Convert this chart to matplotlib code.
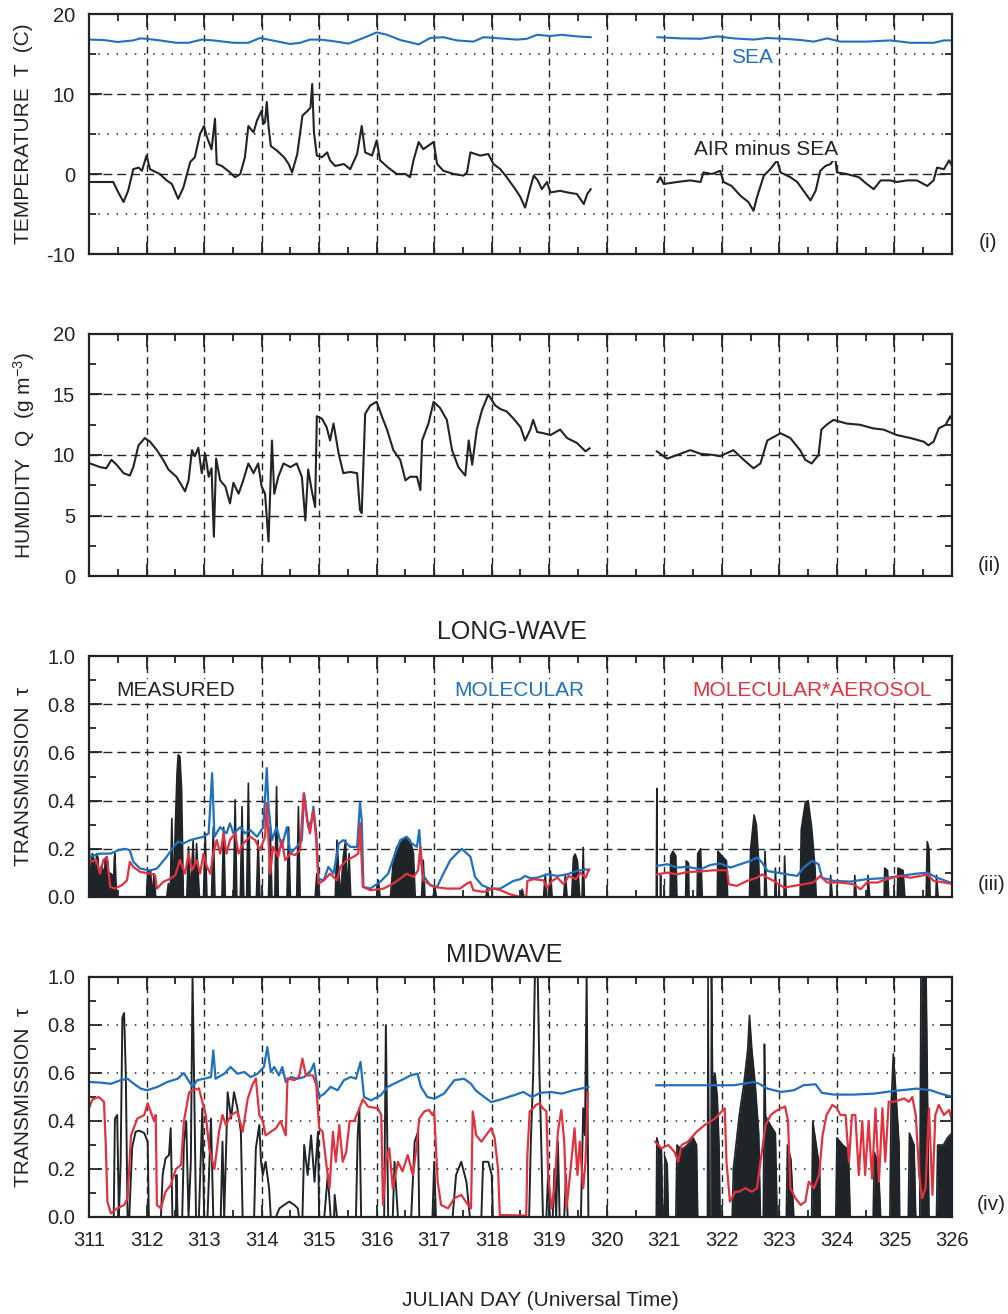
import numpy as np
import matplotlib
matplotlib.use("Agg")
import matplotlib.pyplot as plt
from matplotlib.ticker import MultipleLocator

plt.rcParams['font.family'] = ['Liberation Sans', 'DejaVu Sans']
plt.rcParams['mathtext.fontset'] = 'custom'
plt.rcParams['mathtext.rm'] = 'Liberation Sans'
plt.rcParams['mathtext.default'] = 'regular'
plt.rcParams['axes.unicode_minus'] = False

nan = np.nan

# ---------------- (i) temperature ----------------
sea_day = [311.0, 311.25, 311.5, 311.77, 311.89, 312.0, 312.23, 312.52, 312.73, 312.96, 313.16, 313.51,
           313.77, 313.97, 314.15, 314.5, 314.67, 314.84, 315.02, 315.25, 315.51, 315.77, 316.0, 316.18,
           316.41, 316.73, 316.93, 317.16, 317.39, 317.68, 317.86, 318.15, 318.44, 318.61, 318.79, 319.02,
           319.22, 319.48, 319.72, nan, 320.88, 321.28, 321.63, 321.92, 322.21, 322.55, 322.79, 323.08,
           323.36, 323.6, 323.83, 324.06, 324.52, 324.93, 325.28, 325.68, 325.86, 326.0]
sea_temp = [16.8, 16.75, 16.5, 16.7, 16.95, 16.9, 16.7, 16.4, 16.4, 16.8, 16.7, 16.4,
            16.4, 17.0, 16.75, 16.25, 16.4, 16.8, 16.8, 16.6, 16.3, 17.0, 17.7, 17.4,
            16.75, 16.2, 17.0, 17.1, 16.7, 16.55, 17.1, 16.95, 16.8, 16.9, 17.4, 17.25,
            17.4, 17.2, 17.1, nan, 17.1, 16.95, 16.9, 17.2, 16.95, 16.8, 17.0, 16.9,
            16.75, 16.55, 16.95, 16.55, 16.55, 16.7, 16.4, 16.4, 16.7, 16.7]

air_day = [311.0, 311.42, 311.51, 311.6, 311.68, 311.77, 311.86, 311.92, 312.0, 312.06, 312.23, 312.35,
           312.44, 312.55, 312.64, 312.76, 312.84, 312.93, 313.0, 313.05, 313.13, 313.19, 313.22, 313.31,
           313.45, 313.54, 313.63, 313.71, 313.77, 313.86, 313.92, 314.0, 314.03, 314.06, 314.09, 314.12,
           314.16, 314.27, 314.39, 314.47, 314.53, 314.62, 314.71, 314.8, 314.85, 314.88, 314.91, 314.96,
           315.05, 315.14, 315.19, 315.28, 315.43, 315.54, 315.66, 315.74, 315.8, 315.92, 316.0, 316.06,
           316.2, 316.35, 316.5, 316.58, 316.64, 316.73, 316.81, 316.99, 317.05, 317.16, 317.34, 317.51,
           317.57, 317.63, 317.8, 317.94, 318.03, 318.15, 318.26, 318.41, 318.5, 318.58, 318.67, 318.73,
           318.8, 318.87, 318.96, 319.02, 319.19, 319.31, 319.48, 319.6, 319.66, 319.72, nan,
           320.88, 320.93, 320.99, 321.22, 321.45, 321.63, 321.68, 321.83, 321.97, 322.03, 322.17, 322.32,
           322.46, 322.55, 322.61, 322.73, 322.84, 322.96, 323.02, 323.19, 323.31, 323.42, 323.54, 323.63,
           323.71, 323.8, 323.89, 323.97, 324.0, 324.17, 324.38, 324.52, 324.64, 324.76, 324.93, 325.04,
           325.22, 325.39, 325.57, 325.68, 325.74, 325.86, 325.95, 326.0]
air_minus_sea = [-1.0, -1.0, -2.3, -3.5, -2.1, 0.6, 0.8, 0.4, 2.3, 0.6, 0.0, -0.8,
                 -1.25, -3.1, -1.7, 1.5, 2.1, 5.0, 6.0, 4.6, 3.1, 6.9, 1.25, 1.0,
                 0.2, -0.4, 0.0, 2.1, 6.0, 5.2, 6.7, 7.9, 6.25, 6.5, 9.0, 6.0,
                 3.5, 2.9, 2.1, 1.25, 0.2, 2.5, 7.3, 7.9, 8.3, 11.25, 5.2, 2.3,
                 2.1, 2.7, 1.7, 1.0, 1.25, 0.6, 2.5, 6.0, 2.7, 2.3, 4.2, 1.7,
                 0.8, 0.0, 0.0, -0.4, 1.7, 4.0, 3.1, 4.0, 1.25, 0.4, 0.0, -0.2,
                 0.2, 2.7, 2.3, 2.5, 1.25, 0.6, -0.4, -1.9, -2.9, -4.2, -1.7, -0.2,
                 -0.8, -1.9, -1.0, -2.3, -2.1, -2.3, -2.5, -3.75, -2.5, -1.9, nan,
                 -1.0, -0.4, -1.25, -1.0, -0.8, -1.0, 0.2, 0.0, 0.4, -1.0, -1.5, -2.7,
                 -3.5, -4.6, -2.9, -0.2, 0.6, 1.7, 0.2, -0.4, -1.0, -2.1, -3.3, -2.1,
                 0.4, 1.0, 1.25, 2.1, 0.2, 0.0, -0.4, -1.25, -1.9, -0.8, -0.8, -1.0,
                 -0.8, -0.8, -1.5, -0.8, 0.8, 0.6, 1.7, 1.0]

# ---------------- (ii) humidity ----------------
hum_day = [311.02, 311.19, 311.3, 311.39, 311.48, 311.6, 311.71, 311.77, 311.86, 311.97, 312.06, 312.18,
           312.29, 312.38, 312.52, 312.67, 312.73, 312.79, 312.84, 312.9, 312.96, 313.02, 313.08, 313.13,
           313.17, 313.21, 313.28, 313.37, 313.45, 313.51, 313.6, 313.68, 313.77, 313.86, 313.94, 314.0,
           314.06, 314.12, 314.18, 314.22, 314.29, 314.38, 314.5, 314.61, 314.7, 314.76, 314.81, 314.87,
           314.93, 314.96, 315.05, 315.13, 315.19, 315.25, 315.34, 315.42, 315.54, 315.66, 315.71, 315.74,
           315.8, 315.89, 316.0, 316.09, 316.18, 316.29, 316.41, 316.5, 316.58, 316.7, 316.76, 316.79,
           316.9, 316.99, 317.1, 317.22, 317.31, 317.42, 317.54, 317.6, 317.66, 317.74, 317.83, 317.94,
           318.06, 318.15, 318.26, 318.38, 318.5, 318.58, 318.67, 318.72, 318.79, 318.9, 319.02, 319.19,
           319.31, 319.48, 319.63, 319.7, nan,
           320.87, 320.96, 321.05, 321.22, 321.45, 321.63, 321.86, 321.97, 322.2, 322.38, 322.55, 322.67,
           322.79, 323.02, 323.19, 323.36, 323.45, 323.56, 323.68, 323.73, 323.82, 323.94, 324.17, 324.4,
           324.63, 324.81, 325.04, 325.28, 325.51, 325.59, 325.68, 325.77, 325.89, 325.97, 326.0]
humidity = [9.3, 9.0, 8.9, 9.6, 9.2, 8.5, 8.3, 9.0, 10.8, 11.4, 11.1, 10.4,
            9.6, 8.8, 8.2, 7.0, 7.9, 10.4, 9.9, 10.6, 8.5, 10.1, 8.2, 8.9,
            3.25, 9.7, 7.9, 7.4, 6.0, 7.7, 6.8, 7.9, 9.3, 8.5, 9.3, 7.4,
            6.8, 2.85, 11.2, 6.8, 8.2, 9.3, 9.0, 9.3, 8.2, 4.6, 8.8, 7.1,
            5.7, 13.2, 13.0, 12.3, 11.2, 12.6, 10.1, 8.5, 8.6, 8.5, 5.45, 5.2,
            13.4, 14.1, 14.4, 13.2, 12.1, 10.4, 9.6, 7.9, 8.2, 8.2, 7.1, 11.2,
            12.6, 14.4, 13.9, 12.9, 10.4, 9.0, 8.3, 11.2, 9.2, 12.1, 13.7, 15.0,
            14.1, 13.8, 13.6, 13.0, 12.3, 11.2, 12.1, 12.9, 11.9, 11.8, 11.65, 12.1,
            11.4, 11.0, 10.3, 10.55, nan,
            10.3, 10.0, 9.7, 10.0, 10.4, 10.1, 10.0, 9.9, 10.4, 9.6, 8.9, 9.3,
            11.2, 11.8, 11.4, 10.4, 9.6, 9.3, 10.0, 12.1, 12.5, 12.9, 12.6, 12.5,
            12.2, 12.1, 11.65, 11.4, 11.1, 10.8, 11.1, 12.2, 12.5, 13.2, 12.9]

# ---------------- (iii) long-wave transmission ----------------
lw_mol_day = [311.02, 311.19, 311.37, 311.51, 311.63, 311.71, 311.77, 311.89, 312.06, 312.18, 312.23, 312.35,
              312.47, 312.55, 312.64, 312.76, 312.87, 312.99, 313.08, 313.14, 313.18, 313.28, 313.39, 313.45,
              313.51, 313.63, 313.71, 313.8, 313.92, 314.03, 314.09, 314.12, 314.18, 314.26, 314.35, 314.44,
              314.5, 314.61, 314.7, 314.74, 314.81, 314.87, 314.9, 314.95, 314.99, 315.08, 315.16, 315.25,
              315.34, 315.42, 315.54, 315.66, 315.71, 315.74, 315.77, 315.89, 316.06, 316.2, 316.32, 316.41,
              316.52, 316.61, 316.7, 316.74, 316.79, 316.93, 317.05, 317.16, 317.28, 317.39, 317.48, 317.57,
              317.63, 317.71, 317.83, 317.97, 318.15, 318.38, 318.5, 318.58, 318.67, 318.79, 318.96, 319.14,
              319.31, 319.48, 319.63, 319.69, nan,
              320.87, 321.05, 321.22, 321.4, 321.63, 321.8, 321.97, 322.15, 322.32, 322.5, 322.61, 322.7,
              322.79, 322.96, 323.14, 323.31, 323.42, 323.57, 323.68, 323.74, 323.94, 324.23, 324.52, 324.81,
              325.1, 325.39, 325.57, 325.74, 325.97]
lw_mol = [0.167, 0.18, 0.18, 0.194, 0.2, 0.194, 0.146, 0.118, 0.11, 0.118, 0.132, 0.167,
          0.208, 0.23, 0.222, 0.236, 0.243, 0.25, 0.264, 0.514, 0.25, 0.29, 0.264, 0.306,
          0.264, 0.29, 0.264, 0.278, 0.25, 0.29, 0.535, 0.375, 0.236, 0.29, 0.208, 0.29,
          0.18, 0.208, 0.236, 0.43, 0.29, 0.32, 0.375, 0.264, 0.076, 0.069, 0.125, 0.097,
          0.222, 0.236, 0.208, 0.208, 0.39, 0.32, 0.042, 0.035, 0.0625, 0.097, 0.18, 0.236,
          0.25, 0.222, 0.208, 0.278, 0.097, 0.049, 0.042, 0.097, 0.153, 0.18, 0.2, 0.18,
          0.167, 0.083, 0.049, 0.035, 0.035, 0.067, 0.074, 0.0875, 0.078, 0.08, 0.094, 0.0875,
          0.094, 0.108, 0.115, 0.111, nan,
          0.129, 0.136, 0.122, 0.125, 0.115, 0.133, 0.139, 0.122, 0.136, 0.15, 0.164, 0.143,
          0.108, 0.101, 0.094, 0.0875, 0.122, 0.15, 0.136, 0.08, 0.067, 0.064, 0.074, 0.078,
          0.0875, 0.097, 0.101, 0.08, 0.06]

lw_aer_day = [311.02, 311.13, 311.19, 311.25, 311.31, 311.37, 311.45, 311.57, 311.66, 311.71, 311.77, 311.89,
              312.06, 312.15, 312.18, 312.29, 312.41, 312.5, 312.58, 312.67, 312.73, 312.79, 312.87, 312.93,
              312.99, 313.05, 313.11, 313.16, 313.22, 313.28, 313.34, 313.39, 313.45, 313.54, 313.6, 313.68,
              313.8, 313.89, 313.97, 314.06, 314.09, 314.12, 314.15, 314.2, 314.29, 314.35, 314.41, 314.5,
              314.58, 314.67, 314.73, 314.79, 314.84, 314.9, 314.95, 314.99, 315.08, 315.19, 315.31, 315.37,
              315.48, 315.6, 315.68, 315.71, 315.76, 315.89, 316.12, 316.29, 316.41, 316.52, 316.64, 316.72,
              316.76, 316.81, 316.99, 317.22, 317.45, 317.57, 317.63, 317.68, 317.86, 318.03, 318.15, 318.32,
              318.5, 318.6, 318.62, 318.73, 318.9, 318.96, 319.05, 319.14, 319.25, 319.34, 319.46, 319.54,
              319.63, 319.69, nan,
              320.87, 321.05, 321.22, 321.4, 321.63, 321.86, 322.09, 322.12, 322.26, 322.44, 322.61, 322.7,
              322.79, 322.9, 323.08, 323.25, 323.42, 323.59, 323.71, 323.83, 324.06, 324.29, 324.41, 324.52,
              324.7, 324.87, 325.1, 325.28, 325.45, 325.57, 325.68, 325.86, 325.97]
lw_aer = [0.146, 0.153, 0.097, 0.153, 0.167, 0.042, 0.035, 0.049, 0.069, 0.146, 0.125, 0.104,
          0.097, 0.09, 0.035, 0.0625, 0.076, 0.09, 0.153, 0.097, 0.18, 0.111, 0.153, 0.097,
          0.18, 0.125, 0.097, 0.18, 0.236, 0.18, 0.264, 0.18, 0.236, 0.264, 0.18, 0.222,
          0.25, 0.236, 0.194, 0.25, 0.39, 0.236, 0.097, 0.208, 0.167, 0.236, 0.153, 0.18,
          0.174, 0.194, 0.43, 0.32, 0.264, 0.361, 0.236, 0.056, 0.069, 0.097, 0.069, 0.125,
          0.153, 0.167, 0.18, 0.306, 0.042, 0.028, 0.035, 0.056, 0.076, 0.097, 0.083, 0.111,
          0.208, 0.069, 0.042, 0.035, 0.035, 0.056, 0.0625, 0.028, 0.021, 0.035, 0.028, 0.011,
          0.0, 0.0, 0.067, 0.074, 0.069, 0.039, 0.067, 0.08, 0.053, 0.0875, 0.074, 0.101,
          0.08, 0.115, nan,
          0.094, 0.101, 0.094, 0.104, 0.106, 0.111, 0.111, 0.053, 0.046, 0.067, 0.08, 0.094,
          0.08, 0.067, 0.039, 0.046, 0.053, 0.06, 0.0875, 0.06, 0.06, 0.053, 0.032, 0.06,
          0.06, 0.074, 0.0875, 0.08, 0.0875, 0.094, 0.067, 0.06, 0.056]

lw_meas_day = [311.0, 311.01, 311.03, 311.05, 311.06, 311.09, 311.1, 311.13, 311.16, 311.17, 311.2, 311.22,
               311.25, 311.26, 311.28, 311.31, 311.33, 311.34, 311.36, 311.38, 311.41, 311.42, 311.44, 311.45,
               311.48, 312.0, 312.02, 312.07, 312.1, 312.13, 312.16, 312.35, 312.38, 312.41, 312.44,
               312.47, 312.5, 312.53, 312.55, 312.58, 312.61, 312.64, 312.7, 312.73, 312.76, 312.81, 312.84,
               312.87, 312.92, 312.99, 313.02, 313.05, 313.13, 313.16, 313.19, 313.31, 313.34, 313.37, 313.51,
               313.54, 313.57, 313.63, 313.66, 313.69, 313.74, 313.77, 313.8, 313.91, 313.94, 313.97, 314.12,
               314.15, 314.18, 314.23, 314.26, 314.29, 314.44, 314.47, 314.5, 314.61, 314.64, 314.67, 314.93,
               314.96, 314.99, 315.28, 315.31, 315.34, 315.37, 315.42, 315.46, 315.49, 315.52, 315.55, 316.0,
               316.03, 316.06, 316.24, 316.29, 316.35, 316.41, 316.46, 316.52, 316.58, 316.64, 316.67, 316.78,
               316.81, 316.84, 316.98, 317.01, 317.04, 317.9, 317.92, 317.95, 318.5, 318.53, 318.56, 318.9,
               318.93, 318.96, 319.0, 319.02, 319.05, 319.25, 319.28, 319.31, 319.39, 319.42, 319.45, 319.49,
               319.53, 319.57, 319.59, 319.61, nan,
               320.86, 320.87, 320.875, 320.93, 320.935, 320.94, 321.1, 321.11, 321.15, 321.2, 321.22, 321.37,
               321.38, 321.42, 321.43, 321.57, 321.58, 321.63, 321.66, 321.92, 321.93, 322.0, 322.08, 322.1,
               322.48, 322.5, 322.56, 322.6, 322.64, 322.66, 322.74, 322.75, 322.78, 322.92, 322.93, 322.95,
               323.08, 323.09, 323.12, 323.36, 323.38, 323.45, 323.5, 323.56, 323.62, 323.64, 323.88, 323.89,
               323.92, 324.3, 324.31, 324.34, 324.53, 324.54, 324.57, 324.82, 324.83, 324.88, 324.9, 325.05,
               325.06, 325.15, 325.18, 325.55, 325.57, 325.6, 325.62, 325.72, 325.73, 325.76]
lw_meas = [0.27, 0.16, 0.0, 0.17, 0.18, 0.15, 0.0, 0.18, 0.16, 0.0, 0.12, 0.13,
           0.11, 0.0, 0.15, 0.167, 0.14, 0.0, 0.1, 0.097, 0.09, 0.0, 0.16, 0.18,
           0.0, 0.0, 0.11, 0.11, 0.0, 0.097, 0.0, 0.0, 0.056, 0.0, 0.326,
           0.0, 0.29, 0.514, 0.59, 0.583, 0.444, 0.0, 0.0, 0.208, 0.0, 0.236, 0.0,
           0.222, 0.0, 0.0, 0.264, 0.0, 0.0, 0.29, 0.0, 0.0, 0.29, 0.0, 0.0,
           0.403, 0.0, 0.0, 0.375, 0.0, 0.0, 0.472, 0.0, 0.0, 0.236, 0.0, 0.0,
           0.29, 0.0, 0.0, 0.458, 0.0, 0.0, 0.29, 0.0, 0.0, 0.375, 0.0, 0.0,
           0.097, 0.0, 0.0, 0.236, 0.111, 0.0, 0.167, 0.236, 0.0, 0.18, 0.0, 0.0,
           0.069, 0.0, 0.0, 0.153, 0.208, 0.222, 0.236, 0.25, 0.236, 0.18, 0.0, 0.0,
           0.153, 0.0, 0.0, 0.042, 0.0, 0.0, 0.035, 0.0, 0.0, 0.032, 0.0, 0.0,
           0.094, 0.0, 0.0, 0.108, 0.0, 0.0, 0.094, 0.0, 0.0, 0.164, 0.178, 0.15,
           0.0, 0.0, 0.206, 0.0, nan,
           0.0, 0.45, 0.0, 0.0, 0.09, 0.0, 0.0, 0.17, 0.19, 0.17, 0.0, 0.0,
           0.15, 0.14, 0.0, 0.0, 0.18, 0.2, 0.0, 0.0, 0.19, 0.17, 0.15, 0.0,
           0.0, 0.2, 0.34, 0.3, 0.15, 0.0, 0.0, 0.19, 0.0, 0.0, 0.12, 0.0,
           0.0, 0.17, 0.0, 0.0, 0.28, 0.39, 0.4, 0.29, 0.12, 0.0, 0.0, 0.09,
           0.0, 0.0, 0.09, 0.0, 0.0, 0.09, 0.0, 0.0, 0.12, 0.11, 0.0, 0.0,
           0.12, 0.11, 0.0, 0.0, 0.23, 0.2, 0.0, 0.0, 0.09, 0.0]

# ---------------- (iv) midwave transmission ----------------
mw_mol_day = [311.0, 311.2, 311.38, 311.55, 311.67, 311.78, 311.9, 312.01, 312.19, 312.36, 312.54, 312.65,
              312.71, 312.8, 312.88, 313.0, 313.12, 313.16, 313.2, 313.35, 313.46, 313.58, 313.7, 313.81,
              313.93, 314.04, 314.1, 314.16, 314.22, 314.3, 314.36, 314.42, 314.51, 314.62, 314.74, 314.86,
              314.91, 314.96, 315.0, 315.09, 315.2, 315.32, 315.43, 315.55, 315.64, 315.72, 315.78, 315.9,
              316.07, 316.19, 316.3, 316.48, 316.59, 316.71, 316.77, 316.88, 317.0, 317.17, 317.35, 317.52,
              317.64, 317.72, 317.87, 317.99, 318.16, 318.38, 318.55, 318.7, 318.84, 319.02, 319.22, 319.42,
              319.68, nan,
              320.86, 321.16, 321.63, 321.91, 322.21, 322.55, 322.65, 322.79, 323.03, 323.25, 323.42, 323.63,
              323.74, 323.95, 324.29, 324.64, 324.99, 325.39, 325.63, 325.8, 325.97]
mw_mol = [0.5625, 0.56, 0.555, 0.57, 0.576, 0.555, 0.535, 0.528, 0.542, 0.5625, 0.576, 0.6,
          0.576, 0.542, 0.57, 0.576, 0.583, 0.694, 0.576, 0.597, 0.625, 0.597, 0.604, 0.583,
          0.597, 0.625, 0.708, 0.604, 0.625, 0.59, 0.625, 0.5625, 0.583, 0.576, 0.583, 0.611,
          0.64, 0.555, 0.5, 0.514, 0.542, 0.528, 0.57, 0.583, 0.576, 0.646, 0.5, 0.486,
          0.507, 0.542, 0.555, 0.576, 0.59, 0.597, 0.542, 0.5, 0.493, 0.514, 0.57, 0.576,
          0.555, 0.528, 0.5, 0.479, 0.49, 0.507, 0.521, 0.5, 0.517, 0.521, 0.514, 0.528,
          0.542, nan,
          0.549, 0.549, 0.549, 0.549, 0.549, 0.5625, 0.555, 0.535, 0.521, 0.528, 0.549, 0.553,
          0.517, 0.51, 0.51, 0.514, 0.525, 0.535, 0.528, 0.514, 0.503]

mw_aer_day = [311.0, 311.06, 311.17, 311.26, 311.29, 311.32, 311.38, 311.49, 311.61, 311.67, 311.73, 311.84,
              311.96, 312.02, 312.07, 312.13, 312.16, 312.18, 312.25, 312.33, 312.42, 312.51, 312.6, 312.65,
              312.74, 312.83, 312.91, 312.97, 313.03, 313.09, 313.18, 313.26, 313.32, 313.38, 313.47, 313.58,
              313.67, 313.76, 313.84, 313.9, 313.96, 314.02, 314.07, 314.16, 314.25, 314.33, 314.42, 314.45,
              314.57, 314.65, 314.71, 314.77, 314.83, 314.89, 314.95, 315.0, 315.06, 315.12, 315.18, 315.24,
              315.29, 315.35, 315.41, 315.47, 315.53, 315.61, 315.7, 315.76, 315.85, 316.02, 316.08, 316.11,
              316.16, 316.22, 316.28, 316.37, 316.45, 316.54, 316.63, 316.69, 316.74, 316.83, 316.91, 316.97,
              317.0, 317.06, 317.12, 317.24, 317.35, 317.47, 317.59, 317.64, 317.67, 317.73, 317.82, 317.9,
              317.99, 318.05, 318.11, 318.14, 318.6, 318.62, 318.66, 318.72, 318.77, 318.83, 318.89, 318.95,
              318.98, 319.04, 319.09, 319.15, 319.21, 319.26, 319.3, 319.36, 319.44, 319.49, 319.53, 319.59,
              319.63, 319.67, nan,
              320.84, 320.95, 321.07, 321.18, 321.24, 321.3, 321.41, 321.56, 321.7, 321.88, 322.05, 322.08,
              322.14, 322.23, 322.29, 322.41, 322.52, 322.61, 322.67, 322.76, 322.85, 322.93, 323.02, 323.1,
              323.15, 323.19, 323.28, 323.37, 323.45, 323.51, 323.6, 323.69, 323.75, 323.82, 323.92, 324.0,
              324.06, 324.15, 324.21, 324.26, 324.32, 324.38, 324.44, 324.49, 324.55, 324.61, 324.67, 324.73,
              324.79, 324.84, 324.9, 324.99, 325.08, 325.17, 325.25, 325.31, 325.37, 325.43, 325.48, 325.54,
              325.6, 325.66, 325.71, 325.77, 325.86, 325.95, 326.0]
mw_aer = [0.453, 0.49, 0.5, 0.48, 0.31, 0.064, 0.015, 0.036, 0.05, 0.078, 0.34, 0.41,
          0.425, 0.474, 0.44, 0.4, 0.425, 0.05, 0.036, 0.105, 0.133, 0.2, 0.217, 0.4,
          0.52, 0.53, 0.536, 0.48, 0.425, 0.286, 0.2, 0.355, 0.425, 0.383, 0.425, 0.44,
          0.355, 0.494, 0.55, 0.578, 0.425, 0.4, 0.34, 0.355, 0.37, 0.4, 0.34, 0.578,
          0.57, 0.585, 0.66, 0.59, 0.59, 0.59, 0.55, 0.37, 0.355, 0.23, 0.12, 0.355,
          0.23, 0.383, 0.23, 0.27, 0.4, 0.4, 0.453, 0.49, 0.46, 0.453, 0.425, 0.05,
          0.23, 0.286, 0.12, 0.23, 0.19, 0.258, 0.175, 0.286, 0.41, 0.44, 0.446, 0.425,
          0.44, 0.147, 0.05, 0.036, 0.078, 0.092, 0.05, 0.036, 0.44, 0.34, 0.314, 0.34,
          0.37, 0.33, 0.2, 0.008, 0.006, 0.26, 0.44, 0.453, 0.467, 0.474, 0.453, 0.44,
          0.175, 0.036, 0.12, 0.355, 0.446, 0.314, 0.036, 0.175, 0.37, 0.175, 0.314, 0.12,
          0.23, 0.52, nan,
          0.314, 0.286, 0.3, 0.27, 0.23, 0.3, 0.314, 0.355, 0.383, 0.41, 0.453, 0.23,
          0.064, 0.105, 0.105, 0.12, 0.105, 0.12, 0.23, 0.383, 0.425, 0.44, 0.453, 0.46,
          0.4, 0.12, 0.078, 0.05, 0.064, 0.147, 0.12, 0.175, 0.34, 0.425, 0.467, 0.453,
          0.425, 0.425, 0.23, 0.425, 0.425, 0.175, 0.4, 0.175, 0.4, 0.16, 0.453, 0.147,
          0.453, 0.23, 0.48, 0.48, 0.487, 0.494, 0.48, 0.5, 0.425, 0.175, 0.078, 0.12,
          0.453, 0.092, 0.425, 0.467, 0.425, 0.446, 0.4]

mw_meas_day = [311.0, 311.43, 311.45, 311.49, 311.52, 311.55, 311.58, 311.61, 311.64, 311.67, 311.7, 311.75,
               311.81, 311.87, 311.96, 312.02, 312.04, 312.25, 312.28, 312.33, 312.39, 312.42, 312.45, 312.51,
               312.52, 312.54, 312.62, 312.65, 312.69, 312.73, 312.77, 312.8, 312.83, 312.86, 312.91, 312.97,
               313.0, 313.06, 313.12, 313.16, 313.29, 313.32, 313.35, 313.41, 313.47, 313.52, 313.58, 313.64,
               313.67, 313.87, 313.9, 313.96, 313.99, 314.02, 314.07, 314.13, 314.16, 314.25, 314.31, 314.39,
               314.48, 314.57, 314.63, 314.65, 314.71, 314.74, 314.8, 314.86, 314.92, 314.98, 315.0, 315.09,
               315.15, 315.2, 315.26, 315.27, 315.31, 315.64, 315.67, 315.7, 315.73, 316.13, 316.16, 316.2,
               316.28, 316.31, 316.37, 316.6, 316.66, 316.72, 316.74, 316.97, 317.0, 317.03, 317.32, 317.38,
               317.47, 317.56, 317.62, 317.82, 317.85, 317.94, 318.0, 318.02, 318.65, 318.68, 318.72, 318.75,
               318.8, 318.83, 318.86, 318.89, 318.95, 318.98, 319.01, 319.06, 319.09, 319.12, 319.15, 319.18,
               319.26, 319.29, 319.32, 319.55, 319.59, 319.62, 319.65, 319.68]
mw_meas = [0.0, 0.0, 0.41, 0.425, 0.0, 0.23, 0.83, 0.85, 0.59, 0.0, 0.0, 0.29,
           0.355, 0.36, 0.35, 0.314, 0.0, 0.0, 0.175, 0.244, 0.258, 0.37, 0.0, 0.0,
           0.175, 0.0, 0.0, 0.314, 0.4, 0.0, 0.23, 1.0, 0.52, 0.0, 0.0, 0.453,
           0.0, 0.0, 0.41, 0.0, 0.0, 0.314, 0.0, 0.52, 0.41, 0.52, 0.453, 0.355,
           0.0, 0.0, 0.286, 0.383, 0.23, 0.175, 0.23, 0.12, 0.0, 0.0, 0.036, 0.05,
           0.064, 0.05, 0.036, 0.0, 0.0, 0.3, 0.175, 0.34, 0.147, 0.355, 0.0, 0.0,
           0.175, 0.0, 0.0, 0.092, 0.0, 0.0, 0.34, 0.453, 0.0, 0.0, 0.8, 0.0,
           0.0, 0.23, 0.0, 0.0, 0.314, 0.355, 0.0, 0.0, 0.23, 0.0, 0.0, 0.175,
           0.23, 0.147, 0.0, 0.0, 0.23, 0.23, 0.175, 0.0, 0.0, 0.314, 0.59, 1.0,
           1.0, 0.59, 0.314, 0.0, 0.0, 0.175, 0.0, 0.0, 0.2, 0.0, 0.314, 0.0,
           0.0, 0.175, 0.0, 0.0, 0.453, 0.34, 1.0, 0.0]

# dense bursts of the measured midwave record after day 320
mw_burst_day = [320.86, 320.87, 320.9, 320.95, 320.97, 321.0, 321.01, 321.05, 321.07, 321.2, 321.22, 321.3,
                321.4, 321.5, 321.56, 321.58, 321.75, 321.76, 321.78, 321.81, 321.82, 321.84, 321.88, 321.92,
                321.95, 321.97, 322.18, 322.2, 322.3, 322.38, 322.45, 322.48, 322.52, 322.58, 322.64, 322.67,
                322.72, 322.74, 322.76, 322.85, 322.93, 322.96, 323.12, 323.14, 323.2, 323.25, 323.56, 323.58,
                323.64, 323.7, 323.71, 323.98, 324.0, 324.1, 324.2, 324.23, 324.63, 324.65, 324.72, 324.76,
                324.92, 324.94, 324.98, 325.03, 325.08, 325.09, 325.24, 325.26, 325.34, 325.37, 325.44, 325.46,
                325.55, 325.58, 325.6, 325.73, 325.75, 325.85, 325.92, 326.0]
mw_burst = [0.0, 0.33, 0.3, 0.28, 0.0, 0.0, 0.25, 0.22, 0.0, 0.0, 0.3, 0.28,
            0.3, 0.33, 0.3, 0.0, 0.0, 1.0, 0.0, 0.0, 1.0, 0.55, 0.6, 0.5,
            0.3, 0.0, 0.0, 0.2, 0.42, 0.55, 0.7, 0.84, 0.7, 0.55, 0.35, 0.0,
            0.0, 0.72, 0.42, 0.38, 0.35, 0.0, 0.0, 0.3, 0.24, 0.0, 0.0, 0.4,
            0.3, 0.2, 0.0, 0.0, 0.33, 0.3, 0.28, 0.0, 0.0, 0.27, 0.22, 0.0,
            0.0, 0.45, 0.68, 0.5, 0.3, 0.0, 0.0, 0.35, 0.3, 0.0, 0.0, 1.0,
            1.0, 0.4, 0.0, 0.0, 0.3, 0.3, 0.33, 0.35]

days = list(range(311, 327))

BLUE = '#2070c0'
RED = '#e2323f'
INK = '#1f2428'
FS_TICK = 14.5
FS_LAB = 15

fig = plt.figure(figsize=(10.08, 13.14), dpi=100)
W, H = 1008.0, 1314.0


def make_axes(top, bottom):
    return fig.add_axes([89 / W, 1 - bottom / H, 863 / W, (bottom - top) / H])


def style(ax, ylim, major, minor, dashed, dotted, hdash=(0, (6.5, 3.5)), xlabels=False):
    ax.set_xlim(311, 326)
    ax.set_ylim(*ylim)
    ax.xaxis.set_major_locator(MultipleLocator(1))
    ax.xaxis.set_minor_locator(MultipleLocator(0.5))
    ax.yaxis.set_major_locator(MultipleLocator(major))
    ax.yaxis.set_minor_locator(MultipleLocator(minor))
    ax.tick_params(which='both', direction='in', top=True, right=True, width=1.3,
                   color=INK, labelcolor=INK, labelsize=FS_TICK)
    ax.tick_params(which='major', length=9, pad=10)
    ax.tick_params(which='minor', length=5)
    ax.tick_params(axis='x', labelbottom=xlabels)
    for d in days[1:-1]:
        ax.axvline(d, color=INK, lw=1.0, ls=(0, (5, 3.5)), zorder=1)
    for y in dashed:
        ax.axhline(y, color=INK, lw=1.0, ls=hdash, zorder=1)
    for y in dotted:
        ax.axhline(y, color=INK, lw=1.1, ls=(0, (1, 5)), zorder=1)
    for s in ax.spines.values():
        s.set_linewidth(1.6)
        s.set_color(INK)
        s.set_zorder(6)


def ylabel(text, top, bottom):
    fig.text(24 / W, 1 - (top + bottom) / 2 / H, text, rotation=90, ha='center', va='center',
             fontsize=FS_LAB, color=INK)


def tag(text, x, y):
    fig.text(x / W, 1 - y / H, text, ha='center', va='center', fontsize=FS_LAB, color=INK)


box = dict(facecolor='white', edgecolor='none', pad=1.5)

# (i) temperature
ax1 = make_axes(14, 254)
style(ax1, (-10, 20), 10, 5, dashed=[0, 10], dotted=[-5, 5, 15])
ax1.set_yticks([-10, 0, 10, 20])
ax1.plot(sea_day, sea_temp, color=BLUE, lw=1.5, zorder=3)
ax1.plot(air_day, air_minus_sea, color=INK, lw=1.5, zorder=3)
ax1.text(322.53, 14.6, 'SEA', color=BLUE, fontsize=FS_LAB, ha='center', va='center', bbox=box, zorder=4)
ax1.text(322.76, 3.1, 'AIR minus SEA', color=INK, fontsize=FS_LAB, ha='center', va='center', bbox=box,
         zorder=4)
ylabel('TEMPERATURE  T  (C)', 14, 254)
tag('(i)', 988, 242)

# (ii) humidity
ax2 = make_axes(334, 576)
style(ax2, (0, 20), 5, 2.5, dashed=[5, 10, 15], dotted=[])
ax2.plot(hum_day, humidity, color=INK, lw=1.5, zorder=3)
ylabel('HUMIDITY  Q  (g m$^{-3}$)', 334, 576)
tag('(ii)', 989, 566)

# (iii) long-wave transmission
ax3 = make_axes(656, 897)
style(ax3, (0, 1), 0.2, 0.1, dashed=[0.2, 0.4, 0.6, 0.8], dotted=[])
ax3.set_yticks([0, 0.2, 0.4, 0.6, 0.8, 1.0])
ax3.yaxis.set_major_formatter(lambda v, p: f'{v:.1f}')
ax3.fill_between(lw_meas_day, 0, lw_meas, color=INK, lw=0, zorder=2)
ax3.plot(lw_meas_day, lw_meas, color=INK, lw=1.2, zorder=2)
ax3.plot(lw_mol_day, lw_mol, color=BLUE, lw=1.6, zorder=3)
ax3.plot(lw_aer_day, lw_aer, color=RED, lw=1.6, zorder=4)
ax3.text(312.51, 0.855, 'MEASURED', color=INK, fontsize=FS_LAB, ha='center', va='center', bbox=box, zorder=5)
ax3.text(318.48, 0.855, 'MOLECULAR', color=BLUE, fontsize=FS_LAB, ha='center', va='center', bbox=box,
         zorder=5)
ax3.text(323.57, 0.855, 'MOLECULAR*AEROSOL', color=RED, fontsize=FS_LAB, ha='center', va='center', bbox=box,
         zorder=5)
ylabel('TRANSMISSION  τ', 656, 897)
tag('(iii)', 992, 884)
fig.text(512 / W, 1 - 632 / H, 'LONG-WAVE', ha='center', va='center', fontsize=18, color=INK)

# (iv) midwave transmission
ax4 = make_axes(977, 1217)
style(ax4, (0, 1), 0.2, 0.1, dashed=[], dotted=[0.2, 0.4, 0.6, 0.8], xlabels=True)
ax4.set_yticks([0, 0.2, 0.4, 0.6, 0.8, 1.0])
ax4.yaxis.set_major_formatter(lambda v, p: f'{v:.1f}')
ax4.set_xticks(days)
ax4.fill_between(mw_burst_day, 0, mw_burst, color=INK, lw=0, zorder=2)
ax4.plot(mw_burst_day, mw_burst, color=INK, lw=1.2, zorder=2)
ax4.plot(mw_meas_day, mw_meas, color=INK, lw=1.4, zorder=2)
ax4.plot(mw_mol_day, mw_mol, color=BLUE, lw=1.6, zorder=3)
ax4.plot(mw_aer_day, mw_aer, color=RED, lw=1.6, zorder=4)
ylabel('TRANSMISSION  τ', 977, 1217)
tag('(iv)', 991, 1204)
fig.text(504 / W, 1 - 955 / H, 'MIDWAVE', ha='center', va='center', fontsize=18, color=INK)

fig.text(540 / W, 1 - 1300 / H, 'JULIAN DAY (Universal Time)', ha='center', va='center',
         fontsize=FS_LAB, color=INK)

fig.savefig('out.png', dpi=100, facecolor='white')
